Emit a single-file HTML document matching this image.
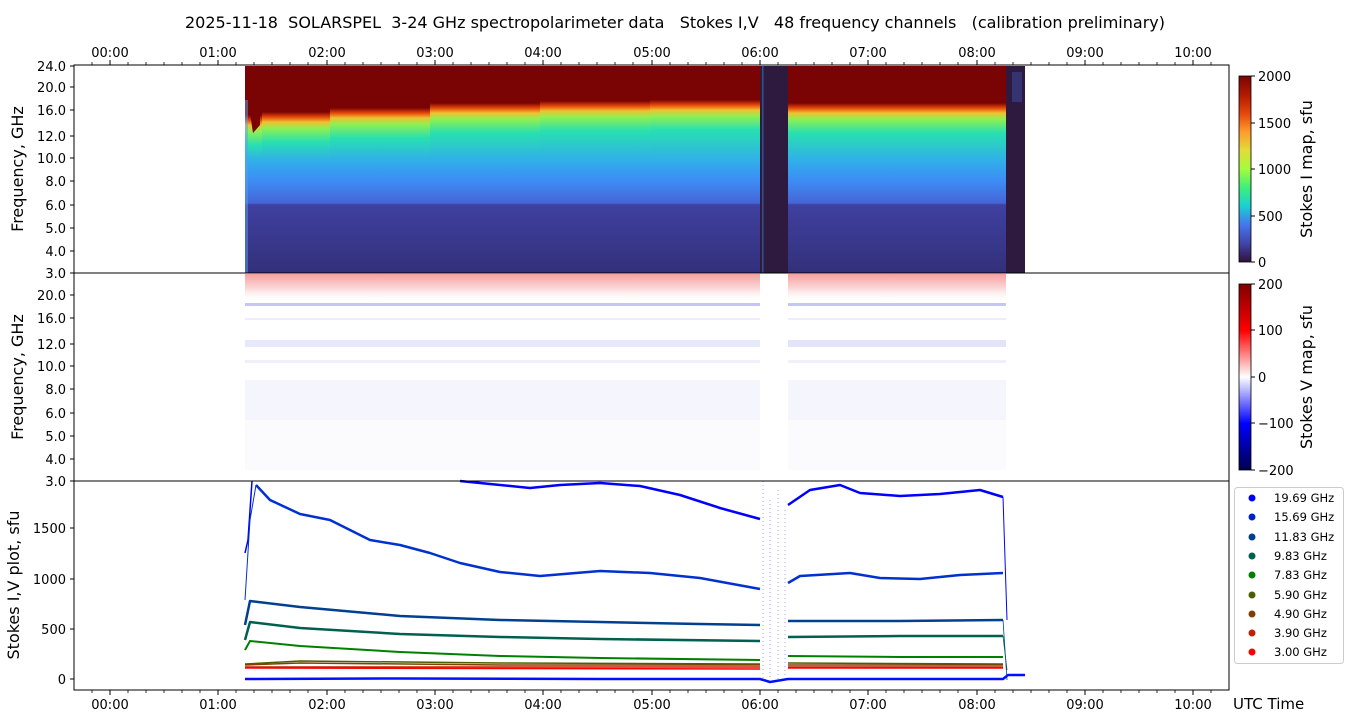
<!DOCTYPE html>
<html><head><meta charset="utf-8"><style>
body{margin:0;background:#fff;}
svg{display:block;font-family:"DejaVu Sans","Liberation Sans",sans-serif;}
</style></head><body>
<svg width="1350" height="725" viewBox="0 0 1350 725" xmlns="http://www.w3.org/2000/svg">
<defs>
<linearGradient id="g115" gradientUnits="userSpaceOnUse" x1="0" y1="66" x2="0" y2="273">
<stop offset="0" stop-color="#7a0403"/><stop offset="0.237" stop-color="#7a0403"/><stop offset="0.261" stop-color="#e4460a"/><stop offset="0.285" stop-color="#f0c030"/><stop offset="0.314" stop-color="#90f050"/><stop offset="0.382" stop-color="#28e0b0"/><stop offset="0.454" stop-color="#30b0e8"/><stop offset="0.556" stop-color="#3d8cf5"/><stop offset="0.662" stop-color="#4566d6"/><stop offset="0.671" stop-color="#3f40a0"/><stop offset="1" stop-color="#33307a"/></linearGradient>
<linearGradient id="g112" gradientUnits="userSpaceOnUse" x1="0" y1="66" x2="0" y2="273">
<stop offset="0" stop-color="#7a0403"/><stop offset="0.222" stop-color="#7a0403"/><stop offset="0.246" stop-color="#e4460a"/><stop offset="0.271" stop-color="#f0c030"/><stop offset="0.300" stop-color="#90f050"/><stop offset="0.367" stop-color="#28e0b0"/><stop offset="0.454" stop-color="#30b0e8"/><stop offset="0.556" stop-color="#3d8cf5"/><stop offset="0.662" stop-color="#4566d6"/><stop offset="0.671" stop-color="#3f40a0"/><stop offset="1" stop-color="#33307a"/></linearGradient>
<linearGradient id="g108" gradientUnits="userSpaceOnUse" x1="0" y1="66" x2="0" y2="273">
<stop offset="0" stop-color="#7a0403"/><stop offset="0.203" stop-color="#7a0403"/><stop offset="0.227" stop-color="#e4460a"/><stop offset="0.251" stop-color="#f0c030"/><stop offset="0.280" stop-color="#90f050"/><stop offset="0.348" stop-color="#28e0b0"/><stop offset="0.454" stop-color="#30b0e8"/><stop offset="0.556" stop-color="#3d8cf5"/><stop offset="0.662" stop-color="#4566d6"/><stop offset="0.671" stop-color="#3f40a0"/><stop offset="1" stop-color="#33307a"/></linearGradient>
<linearGradient id="g103" gradientUnits="userSpaceOnUse" x1="0" y1="66" x2="0" y2="273">
<stop offset="0" stop-color="#7a0403"/><stop offset="0.179" stop-color="#7a0403"/><stop offset="0.203" stop-color="#e4460a"/><stop offset="0.227" stop-color="#f0c030"/><stop offset="0.256" stop-color="#90f050"/><stop offset="0.324" stop-color="#28e0b0"/><stop offset="0.454" stop-color="#30b0e8"/><stop offset="0.556" stop-color="#3d8cf5"/><stop offset="0.662" stop-color="#4566d6"/><stop offset="0.671" stop-color="#3f40a0"/><stop offset="1" stop-color="#33307a"/></linearGradient>
<linearGradient id="g101" gradientUnits="userSpaceOnUse" x1="0" y1="66" x2="0" y2="273">
<stop offset="0" stop-color="#7a0403"/><stop offset="0.169" stop-color="#7a0403"/><stop offset="0.193" stop-color="#e4460a"/><stop offset="0.217" stop-color="#f0c030"/><stop offset="0.246" stop-color="#90f050"/><stop offset="0.314" stop-color="#28e0b0"/><stop offset="0.454" stop-color="#30b0e8"/><stop offset="0.556" stop-color="#3d8cf5"/><stop offset="0.662" stop-color="#4566d6"/><stop offset="0.671" stop-color="#3f40a0"/><stop offset="1" stop-color="#33307a"/></linearGradient>
<linearGradient id="g100" gradientUnits="userSpaceOnUse" x1="0" y1="66" x2="0" y2="273">
<stop offset="0" stop-color="#7a0403"/><stop offset="0.164" stop-color="#7a0403"/><stop offset="0.188" stop-color="#e4460a"/><stop offset="0.213" stop-color="#f0c030"/><stop offset="0.242" stop-color="#90f050"/><stop offset="0.309" stop-color="#28e0b0"/><stop offset="0.454" stop-color="#30b0e8"/><stop offset="0.556" stop-color="#3d8cf5"/><stop offset="0.662" stop-color="#4566d6"/><stop offset="0.671" stop-color="#3f40a0"/><stop offset="1" stop-color="#33307a"/></linearGradient>
<linearGradient id="cbI" x1="0" y1="1" x2="0" y2="0">
<stop offset="0" stop-color="#30123b"/><stop offset="0.1" stop-color="#4145ab"/><stop offset="0.2" stop-color="#4675ed"/><stop offset="0.3" stop-color="#1bcfd4"/><stop offset="0.4" stop-color="#3ef07a"/><stop offset="0.5" stop-color="#a4fc3c"/><stop offset="0.6" stop-color="#e2dc38"/><stop offset="0.7" stop-color="#fe9b2d"/><stop offset="0.8" stop-color="#e4460a"/><stop offset="0.9" stop-color="#b11901"/><stop offset="1" stop-color="#7a0403"/></linearGradient>
<linearGradient id="cbV" x1="0" y1="1" x2="0" y2="0">
<stop offset="0" stop-color="#00004c"/><stop offset="0.25" stop-color="#0000ff"/><stop offset="0.5" stop-color="#ffffff"/><stop offset="0.75" stop-color="#ff0000"/><stop offset="1" stop-color="#800000"/></linearGradient>
<linearGradient id="vR" x1="0" y1="0" x2="0" y2="1">
<stop offset="0" stop-color="#f4a0a0"/><stop offset="0.5" stop-color="#fbd6d6"/><stop offset="1" stop-color="#ffffff" stop-opacity="0"/></linearGradient>
</defs>
<text x="675" y="28" font-size="16" text-anchor="middle" style="white-space:pre" xml:space="preserve">2025-11-18  SOLARSPEL  3-24 GHz spectropolarimeter data   Stokes I,V   48 frequency channels   (calibration preliminary)</text>

<!-- TOP PANEL -->
<rect x="245" y="66" width="18" height="207" fill="url(#g115)"/>
<rect x="262" y="66" width="69" height="207" fill="url(#g112)"/>
<rect x="330" y="66" width="101" height="207" fill="url(#g108)"/>
<rect x="430" y="66" width="111" height="207" fill="url(#g103)"/>
<rect x="540" y="66" width="111" height="207" fill="url(#g101)"/>
<rect x="650" y="66" width="110" height="207" fill="url(#g100)"/>
<rect x="788" y="66" width="218" height="207" fill="url(#g103)"/>
<polygon points="245,66 260,66 260,125 253,133 248,100 245,80" fill="#7a0403"/>
<rect x="245" y="100" width="3" height="173" fill="#5aa0f0" opacity="0.5"/>
<rect x="760" y="66" width="28" height="207" fill="#2d1a3e"/>
<rect x="762" y="66" width="1.5" height="207" fill="#3a8ad8" opacity="0.5"/>
<rect x="1006" y="66" width="19" height="207" fill="#2d1a3e"/>
<rect x="1012" y="72" width="10" height="30" fill="#3a3f8a" opacity="0.7"/>
<rect x="74" y="65" width="1155" height="208" fill="none" stroke="#000" stroke-width="1"/>

<!-- MIDDLE PANEL -->
<rect x="245" y="274" width="515" height="28" fill="url(#vR)"/>
<rect x="788" y="274" width="218" height="28" fill="url(#vR)"/>
<g fill="#4040e0">
<rect x="245" y="303" width="515" height="3" opacity="0.3"/>
<rect x="788" y="303" width="218" height="3" opacity="0.3"/>
<rect x="245" y="318" width="515" height="2" opacity="0.1"/>
<rect x="788" y="318" width="218" height="2" opacity="0.1"/>
<rect x="245" y="340" width="515" height="7" opacity="0.12"/>
<rect x="788" y="340" width="218" height="7" opacity="0.15"/>
<rect x="245" y="360" width="515" height="3" opacity="0.08"/>
<rect x="788" y="360" width="218" height="3" opacity="0.08"/>
<rect x="245" y="380" width="515" height="40" opacity="0.05"/>
<rect x="788" y="380" width="218" height="40" opacity="0.05"/>
<rect x="245" y="420" width="515" height="50" opacity="0.025"/>
<rect x="788" y="420" width="218" height="50" opacity="0.025"/>
</g>
<rect x="74" y="273" width="1155" height="208" fill="none" stroke="#000" stroke-width="1"/>

<!-- BOTTOM PANEL -->
<g fill="none" stroke-width="2.5" stroke-linejoin="round">
<polyline stroke="#0000ff" stroke-width="1.5" points="245,553 248,540 252,481"/>
<polyline stroke="#0000ff" points="460,481 490,484 530,488 560,485 600,483 640,486 680,495 720,508 760,519"/>
<polyline stroke="#0000ff" points="788,505 810,490 840,485 860,493 900,496 940,494 980,490 1003,497"/>
<polyline stroke="#0000ff" stroke-width="1" points="1003,497 1007,620"/>
<polyline stroke="#0030d0" stroke-width="1" points="245,600 250,520 256,485"/>
<polyline stroke="#0030d0" points="256,485 270,500 300,514 330,520 370,540 400,545 430,553 460,563 500,572 540,576 600,571 650,573 700,578 760,589"/>
<polyline stroke="#0030d0" points="788,583 800,576 850,573 880,578 920,579 960,575 1003,573"/>
<polyline stroke="#004090" points="245,625 250,601 300,607 400,616 500,620 600,622 700,624 760,625"/>
<polyline stroke="#004090" points="788,621 900,621 1003,620"/>
<polyline stroke="#006050" points="245,640 250,622 300,628 400,634 500,637 600,639 760,641"/>
<polyline stroke="#006050" points="788,637 900,636 1003,636"/>
<polyline stroke="#008000" stroke-width="2" points="245,650 250,641 300,646 400,652 500,656 600,658 760,660"/>
<polyline stroke="#008000" stroke-width="2" points="788,656 900,657 1003,657"/>
<polyline stroke="#4a6000" stroke-width="1.5" points="245,664 300,661 500,663 760,664"/>
<polyline stroke="#804000" stroke-width="1.5" points="245,665 300,663 500,665 760,665"/>
<polyline stroke="#4a6000" stroke-width="1.5" points="788,663 1003,664"/>
<polyline stroke="#804000" stroke-width="1.5" points="788,665 1003,665"/>
<polyline stroke="#c02000" stroke-width="1.5" points="245,667 760,667"/>
<polyline stroke="#c02000" stroke-width="1.5" points="788,667 1003,667"/>
<polyline stroke="#ff0000" stroke-width="1.5" points="245,668 760,669"/>
<polyline stroke="#ff0000" stroke-width="1.5" points="788,668 1003,668"/>
<polyline stroke="#0010ff" points="245,679 400,678.5 600,679 760,679 770,682 788,679 1003,679 1008,675 1025,675"/>
</g>
<g fill="none" stroke-width="0.8">
<polyline stroke="#004090" points="1003,620 1007,680"/>
<polyline stroke="#006050" points="1003,636 1007,670"/>
</g>
<g stroke="#0000ff" stroke-width="0.6" stroke-dasharray="1 3" opacity="0.6">
<line x1="763" y1="481" x2="763" y2="680"/><line x1="770" y1="500" x2="770" y2="680"/><line x1="778" y1="490" x2="778" y2="680"/><line x1="785" y1="510" x2="785" y2="680"/>
</g>
<rect x="74" y="481" width="1155" height="209" fill="none" stroke="#000" stroke-width="1"/>

<!-- x ticks -->
<g stroke="#000" stroke-width="1">
<path d="M110,65v-5M218,65v-5M327,65v-5M435,65v-5M543,65v-5M652,65v-5M760,65v-5M868,65v-5M977,65v-5M1085,65v-5M1193,65v-5"/>
<path d="M110,690v5M218,690v5M327,690v5M435,690v5M543,690v5M652,690v5M760,690v5M868,690v5M977,690v5M1085,690v5M1193,690v5"/>
</g>
<g id="minor" stroke="#000" stroke-width="0.8">
<path d="M92,65v-3M128,65v-3M146,65v-3M164,65v-3M182,65v-3M200,65v-3M236,65v-3M254,65v-3M272,65v-3M290,65v-3M308,65v-3M345,65v-3M363,65v-3M381,65v-3M399,65v-3M417,65v-3M453,65v-3M471,65v-3M489,65v-3M507,65v-3M525,65v-3M561,65v-3M579,65v-3M597,65v-3M615,65v-3M633,65v-3M670,65v-3M688,65v-3M706,65v-3M724,65v-3M742,65v-3M778,65v-3M796,65v-3M814,65v-3M832,65v-3M850,65v-3M886,65v-3M904,65v-3M922,65v-3M940,65v-3M958,65v-3M995,65v-3M1013,65v-3M1031,65v-3M1049,65v-3M1067,65v-3M1103,65v-3M1121,65v-3M1139,65v-3M1157,65v-3M1175,65v-3M1211,65v-3"/>
</g>
<use href="#minor" transform="translate(0,755) scale(1,-1)"/>
<g font-size="13" text-anchor="middle">
<text x="110" y="57">00:00</text><text x="218" y="57">01:00</text><text x="327" y="57">02:00</text><text x="435" y="57">03:00</text><text x="543" y="57">04:00</text><text x="652" y="57">05:00</text><text x="760" y="57">06:00</text><text x="868" y="57">07:00</text><text x="977" y="57">08:00</text><text x="1085" y="57">09:00</text><text x="1193" y="57">10:00</text>
<text x="110" y="709">00:00</text><text x="218" y="709">01:00</text><text x="327" y="709">02:00</text><text x="435" y="709">03:00</text><text x="543" y="709">04:00</text><text x="652" y="709">05:00</text><text x="760" y="709">06:00</text><text x="868" y="709">07:00</text><text x="977" y="709">08:00</text><text x="1085" y="709">09:00</text><text x="1193" y="709">10:00</text>
</g>
<text x="1233" y="709" font-size="15">UTC Time</text>

<g font-size="13" text-anchor="end">
<text x="66" y="71">24.0</text><text x="66" y="92">20.0</text><text x="66" y="115">16.0</text><text x="66" y="141">12.0</text><text x="66" y="163">10.0</text><text x="66" y="186">8.0</text><text x="66" y="210">6.0</text><text x="66" y="233">5.0</text><text x="66" y="256">4.0</text><text x="66" y="278">3.0</text>
<text x="66" y="300">20.0</text><text x="66" y="323">16.0</text><text x="66" y="349">12.0</text><text x="66" y="371">10.0</text><text x="66" y="394">8.0</text><text x="66" y="418">6.0</text><text x="66" y="441">5.0</text><text x="66" y="464">4.0</text><text x="66" y="486">3.0</text>
<text x="66" y="533">1500</text><text x="66" y="584">1000</text><text x="66" y="634">500</text><text x="66" y="684">0</text>
</g>
<g stroke="#000">
<path d="M74,66h-4M74,87h-4M74,110h-4M74,136h-4M74,158h-4M74,181h-4M74,205h-4M74,228h-4M74,251h-4M74,273h-4M74,295h-4M74,318h-4M74,344h-4M74,366h-4M74,389h-4M74,413h-4M74,436h-4M74,459h-4M74,481h-4M74,528h-4M74,579h-4M74,629h-4M74,679h-4"/>
</g>
<g font-size="16" text-anchor="middle">
<text transform="translate(23,169) rotate(-90)">Frequency, GHz</text>
<text transform="translate(23,377) rotate(-90)">Frequency, GHz</text>
<text transform="translate(19,585) rotate(-90)">Stokes I,V plot, sfu</text>
<text transform="translate(1312,169) rotate(-90)">Stokes I map, sfu</text>
<text transform="translate(1312,377) rotate(-90)">Stokes V map, sfu</text>
</g>

<rect x="1239" y="76" width="12" height="186" fill="url(#cbI)" stroke="#000" stroke-width="0.8"/>
<rect x="1239" y="284" width="12" height="186" fill="url(#cbV)" stroke="#000" stroke-width="0.8"/>
<g stroke="#000"><path d="M1251,76h4M1251,123h4M1251,169h4M1251,216h4M1251,262h4M1251,284h4M1251,330h4M1251,377h4M1251,423h4M1251,470h4"/></g>
<g font-size="13">
<text x="1258" y="81">2000</text><text x="1258" y="128">1500</text><text x="1258" y="174">1000</text><text x="1258" y="221">500</text><text x="1258" y="267">0</text>
<text x="1258" y="289">200</text><text x="1258" y="335">100</text><text x="1258" y="382">0</text><text x="1258" y="428">−100</text><text x="1258" y="475">−200</text>
</g>

<rect x="1234.5" y="487.5" width="109" height="176" rx="3" fill="#fff" stroke="#ccc"/>
<g font-size="11.5">
<circle cx="1252" cy="498" r="3.5" fill="#0000ff"/><text x="1274" y="502">19.69 GHz</text>
<circle cx="1252" cy="517" r="3.5" fill="#0022cc"/><text x="1274" y="521">15.69 GHz</text>
<circle cx="1252" cy="537" r="3.5" fill="#004090"/><text x="1274" y="541">11.83 GHz</text>
<circle cx="1252" cy="556" r="3.5" fill="#006050"/><text x="1274" y="560">9.83 GHz</text>
<circle cx="1252" cy="575" r="3.5" fill="#008000"/><text x="1274" y="579">7.83 GHz</text>
<circle cx="1252" cy="595" r="3.5" fill="#4a6000"/><text x="1274" y="599">5.90 GHz</text>
<circle cx="1252" cy="614" r="3.5" fill="#804000"/><text x="1274" y="618">4.90 GHz</text>
<circle cx="1252" cy="633" r="3.5" fill="#c02000"/><text x="1274" y="637">3.90 GHz</text>
<circle cx="1252" cy="652" r="3.5" fill="#ff0000"/><text x="1274" y="656">3.00 GHz</text>
</g>
</svg>
</body></html>
